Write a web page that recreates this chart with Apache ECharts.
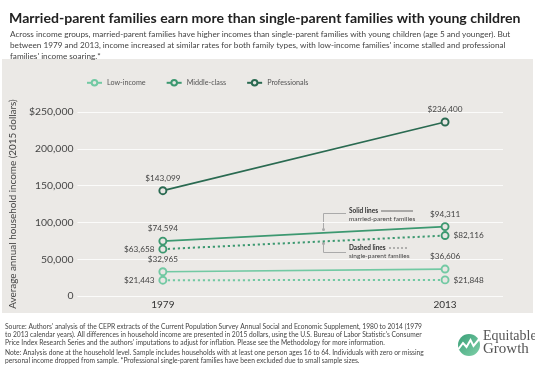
<!DOCTYPE html>
<html><head><meta charset="utf-8">
<script src="https://cdn.jsdelivr.net/npm/echarts@6/dist/echarts.min.js"></script>
<style>html,body{margin:0;padding:0;background:#fff}#c{width:535px;height:365px}</style>
</head><body><div id="c"></div>
<script>
const years = [1979, 2013];
const lowMarried = [32965, 36606];
const lowSingle = [21443, 21848];
const midMarried = [74594, 94311];
const midSingle = [63658, 82116];
const professionals = [143099, 236400];
const yTicks = [0, 50000, 100000, 150000, 200000, 250000];
const legendNames = ['Low-income', 'Middle-class', 'Professionals'];
const colors = {low: '#72c9a3', mid: '#3c9870', pro: '#2a6a51'};

const FONT = 'Lato';
const toPts = arr => arr.map((v, i) => [years[i], v]);
const fmt = v => '$' + v.toLocaleString('en-US');

function mk(name, data, color, dashed) {
  return {
    name, type: 'line',
    data: toPts(data).map((d, j) => ({value: d, label: {position: dashed ? (j === 0 ? 'left' : 'right') : 'top'}})),
    symbol: 'circle', symbolSize: 7,
    lineStyle: {color, width: dashed ? 2 : 1.7, type: dashed ? [2.2, 2.8] : 'solid'},
    itemStyle: {color: '#e8e6e3', borderColor: color, borderWidth: 1.9},
    label: {show: true, distance: 4, formatter: p => fmt(p.value[1]),
      color: '#444', fontFamily: FONT, fontSize: 8.2},
    emphasis: {disabled: true}, z: dashed ? 2 : 3
  };
}

const chart = echarts.init(document.getElementById('c'), null, {renderer: 'canvas'});
const sub = "Across income groups, married-parent families have higher incomes than single-parent families with young children (age 5 and younger). But\nbetween 1979 and 2013, income increased at similar rates for both family types, with low-income families' income stalled and professional\nfamilies' income soaring.*";
const src = "Source: Authors' analysis of the CEPR extracts of the Current Population Survey Annual Social and Economic Supplement, 1980 to 2014 (1979\nto 2013 calendar years). All differences in household income are presented in 2015 dollars, using the U.S. Bureau of Labor Statistic's Consumer\nPrice Index Research Series and the authors' imputations to adjust for inflation. Please see the Methodology for more information.";
const note = "Note: Analysis done at the household level. Sample includes households with at least one person ages 16 to 64. Individuals with zero or missing\npersonal income dropped from sample. *Professional single-parent families have been excluded due to small sample sizes.";

chart.setOption({
  backgroundColor: '#fff',
  animation: false,
  title: [
    {text: 'Married-parent families earn more than single-parent families with young children', left: 4, top: 6,
     textStyle: {fontFamily: FONT, fontWeight: 'bold', fontSize: 14.1, color: '#222'}},
    {text: sub, left: 5, top: 24.5, textStyle: {fontFamily: FONT, fontWeight: 'normal', fontSize: 8.2, color: '#444', lineHeight: 10.6}}
  ],
  legend: {
    data: legendNames, left: 81, top: 74, itemWidth: 15, itemHeight: 7, itemGap: 20,
    textStyle: {fontFamily: FONT, fontSize: 7.2, color: '#555'}
  },
  grid: {left: 72, right: 32, top: 112, bottom: 69},
  xAxis: {
    type: 'value', min: 1968.71, max: 2019.98,
    axisLine: {show: false}, axisTick: {show: false}, splitLine: {show: false},
    axisLabel: {customValues: years, formatter: v => String(Math.round(v)), color: '#333', fontFamily: FONT, fontSize: 10, margin: 4}
  },
  yAxis: {
    type: 'value', min: yTicks[0], max: yTicks[yTicks.length - 1], interval: 50000,
    name: 'Average annual household income (2015 dollars)', nameLocation: 'middle', nameGap: 52,
    nameTextStyle: {fontFamily: FONT, fontSize: 9.9, color: '#444'},
    axisLine: {show: false}, axisTick: {show: false},
    splitLine: {lineStyle: {color: '#fbfbfa', width: 1}},
    axisLabel: {color: '#444', fontFamily: FONT, fontSize: 10.4, margin: 4,
      formatter: v => v === 250000 ? '$250,000' : v.toLocaleString('en-US')}
  },
  series: [
    mk('Low-income', lowMarried, colors.low, false),
    mk('Middle-class', midMarried, colors.mid, false),
    mk('Professionals', professionals, colors.pro, false),
    mk('Low-income', lowSingle, colors.low, true),
    mk('Middle-class', midSingle, colors.mid, true)
  ],
  graphic: [
    {type: 'rect', z: -10, silent: true, shape: {x: 2, y: 59, width: 531, height: 254}, style: {fill: '#ebe9e6'}},
    // annotation: solid lines
    {type: 'text', silent: true, style: {x: 349, y: 207.5, text: 'Solid lines', font: 'bold 6.5px Lato', fill: '#333'}},
    {type: 'line', silent: true, shape: {x1: 381, y1: 211, x2: 413, y2: 211}, style: {stroke: '#666', lineWidth: 1}},
    {type: 'text', silent: true, style: {x: 349, y: 215, text: 'married-parent families', font: '6.5px Lato', fill: '#444'}},
    {type: 'polyline', silent: true, shape: {points: [[346, 213.5], [323.5, 213.5], [323.5, 229]]}, style: {stroke: '#aaa', lineWidth: 1, fill: null}},
    {type: 'circle', silent: true, shape: {cx: 323.5, cy: 229.5, r: 1.5}, style: {fill: '#aaa'}},
    // annotation: dashed lines
    {type: 'text', silent: true, style: {x: 349, y: 244.5, text: 'Dashed lines', font: 'bold 6.5px Lato', fill: '#333'}},
    {type: 'line', silent: true, shape: {x1: 389, y1: 248, x2: 408, y2: 248}, style: {stroke: '#777', lineWidth: 1, lineDash: [2, 2]}},
    {type: 'text', silent: true, style: {x: 349, y: 252.5, text: 'single-parent families', font: '6.5px Lato', fill: '#444'}},
    {type: 'polyline', silent: true, shape: {points: [[323.5, 244], [323.5, 252.5], [346, 252.5]]}, style: {stroke: '#aaa', lineWidth: 1, fill: null}},
    {type: 'circle', silent: true, shape: {cx: 323.5, cy: 243.5, r: 1.5}, style: {fill: '#aaa'}},
    // footer
    {type: 'text', silent: true, style: {x: 5, y: 323, text: src, font: '6.7px Lato', fill: '#444', lineHeight: 8}},
    {type: 'text', silent: true, style: {x: 5, y: 349, text: note, font: '6.7px Lato', fill: '#444', lineHeight: 8}},
    // logo
    {type: 'circle', silent: true, shape: {cx: 469, cy: 345, r: 11},
     style: {fill: new echarts.graphic.LinearGradient(0, 0, 1, 1, [{offset: 0, color: '#3a9f78'}, {offset: 1, color: '#7fd0a8'}])}},
    {type: 'polyline', silent: true, shape: {points: [[458.5, 349], [463, 343], [466.5, 347], [470.5, 340], [473.5, 346], [480, 338]]}, style: {stroke: '#fff', lineWidth: 2, fill: null}},
    {type: 'text', silent: true, style: {x: 483, y: 329, text: 'Equitable', font: '14px "Liberation Serif"', fill: '#555'}},
    {type: 'text', silent: true, style: {x: 483, y: 342, text: 'Growth', font: '15px "Liberation Serif"', fill: '#555'}}
  ]
});
</script></body></html>
